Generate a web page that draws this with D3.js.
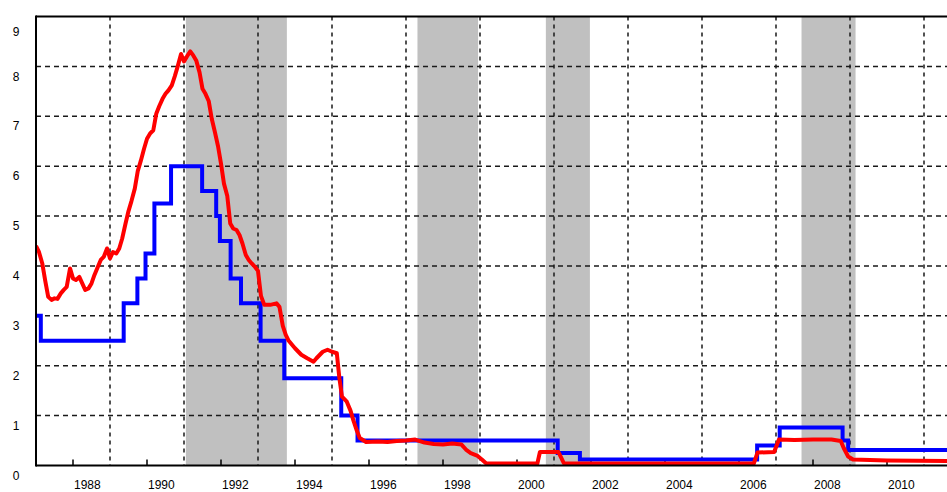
<!DOCTYPE html>
<html>
<head>
<meta charset="utf-8">
<script src="https://cdn.jsdelivr.net/npm/d3@7"></script>
<style>
  body { margin: 0; background: #fff; }
  text { font-family: "Liberation Sans", Arial, sans-serif; font-size: 12px; fill: #000; }
</style>
</head>
<body>
<div id="chart"></div>
<script>
var width = 947,
    height = 492;

// left/top of the plot frame, bottom axis line
var plotLeft = 36, plotTop = 16.5, plotBottom = 465.5;

// recession bands (decimal years)
var recessionStart = [1991.05, 1997.31, 2000.78, 2007.69];
var recessionEnd   = [1993.78, 1998.95, 2001.97, 2009.15];

// official discount rate: date of change and new level
var blueDates  = [1987.00, 1987.13, 1989.37, 1989.74, 1989.96, 1990.20, 1990.65, 1991.49, 1991.87, 1991.97,
                  1992.26, 1992.54, 1993.07, 1993.71, 1995.25, 1995.69, 2001.10, 2001.17, 2001.70, 2006.49,
                  2007.10, 2008.80, 2008.95, 2011.80];
var blueValues = [3.00, 2.50, 3.25, 3.75, 4.25, 5.25, 6.00, 5.50, 5.00, 4.50,
                  3.75, 3.25, 2.50, 1.75, 1.00, 0.50, 0.25, 0.25, 0.12, 0.40,
                  0.76, 0.50, 0.31, 0.31];

// call rate
var redDates = [1987.00, 1987.08, 1987.17, 1987.25, 1987.33, 1987.42, 1987.50, 1987.58, 1987.67, 1987.75,
                1987.83, 1987.92, 1988.00, 1988.08, 1988.17, 1988.25, 1988.33, 1988.42, 1988.50, 1988.58,
                1988.67, 1988.75, 1988.83, 1988.92, 1989.00, 1989.08, 1989.17, 1989.25, 1989.33, 1989.42,
                1989.50, 1989.58, 1989.67, 1989.75, 1989.83, 1989.92, 1990.00, 1990.08, 1990.17, 1990.25,
                1990.33, 1990.42, 1990.50, 1990.58, 1990.67, 1990.75, 1990.83, 1990.92, 1991.00, 1991.08,
                1991.17, 1991.25, 1991.33, 1991.42, 1991.50, 1991.58, 1991.67, 1991.75, 1991.83, 1991.92,
                1992.00, 1992.08, 1992.17, 1992.25, 1992.33, 1992.42, 1992.50, 1992.58, 1992.67, 1992.75,
                1992.83, 1992.92, 1993.00, 1993.08, 1993.17, 1993.33, 1993.50, 1993.58, 1993.67, 1993.75,
                1993.83, 1993.92, 1994.00, 1994.17, 1994.33, 1994.50, 1994.58, 1994.75, 1994.88, 1995.00,
                1995.13, 1995.20, 1995.27, 1995.40, 1995.50, 1995.58, 1995.67, 1995.75, 1995.92, 1996.25,
                1996.50, 1996.75, 1997.00, 1997.25, 1997.50, 1997.75, 1998.00, 1998.25, 1998.50, 1998.62,
                1998.75, 1998.92, 1999.05, 1999.17, 2000.55, 2000.62, 2001.12, 2001.20, 2001.27, 2006.40,
                2006.50, 2006.95, 2007.08, 2007.50, 2008.00, 2008.50, 2008.75, 2008.83, 2008.95, 2009.08,
                2010.00, 2011.80];
var redValues = [4.40, 4.28, 4.05, 3.70, 3.38, 3.32, 3.35, 3.34, 3.45, 3.52,
                 3.58, 3.95, 3.75, 3.72, 3.78, 3.65, 3.52, 3.55, 3.65, 3.82,
                 3.98, 4.12, 4.18, 4.35, 4.15, 4.28, 4.25, 4.35, 4.55, 4.85,
                 5.10, 5.30, 5.55, 5.90, 6.10, 6.35, 6.55, 6.65, 6.72, 7.05,
                 7.20, 7.35, 7.45, 7.52, 7.62, 7.80, 8.00, 8.25, 8.10, 8.20,
                 8.30, 8.22, 8.12, 7.88, 7.55, 7.45, 7.30, 6.95, 6.70, 6.40,
                 6.05, 5.65, 5.40, 4.85, 4.75, 4.72, 4.62, 4.45, 4.22, 4.12,
                 4.05, 3.98, 3.90, 3.40, 3.22, 3.22, 3.25, 3.18, 2.80, 2.62,
                 2.50, 2.42, 2.35, 2.22, 2.15, 2.08, 2.15, 2.28, 2.32, 2.28,
                 2.25, 1.75, 1.38, 1.28, 1.10, 0.90, 0.70, 0.55, 0.47, 0.48,
                 0.47, 0.49, 0.50, 0.52, 0.46, 0.43, 0.42, 0.44, 0.42, 0.32,
                 0.25, 0.20, 0.12, 0.04, 0.04, 0.27, 0.27, 0.15, 0.04, 0.04,
                 0.26, 0.27, 0.52, 0.51, 0.52, 0.52, 0.49, 0.35, 0.18, 0.12,
                 0.10, 0.09];

var yTicks = [0, 1, 2, 3, 4, 5, 6, 7, 8, 9];
var xTickYears = [1988, 1990, 1992, 1994, 1996, 1998, 2000, 2002, 2004, 2006, 2008, 2010];
var xGridYears = [1989, 1991, 1993, 1995, 1997, 1999, 2001, 2003, 2005, 2007, 2009, 2011];

var x = d3.scaleLinear().domain([1987, 2012]).range([plotLeft, plotLeft + 25 * 37]);
var y = d3.scaleLinear().domain([0, 9]).range([plotBottom, plotTop]);

var svg = d3.select("#chart").append("svg")
    .attr("width", width)
    .attr("height", height);

svg.append("defs").append("clipPath").attr("id", "plotClip")
  .append("rect")
    .attr("x", plotLeft).attr("y", plotTop)
    .attr("width", width - plotLeft).attr("height", plotBottom - plotTop);

/* recession shading */
svg.selectAll(".recession")
  .data(d3.range(recessionStart.length))
  .enter().append("rect")
    .attr("class", "recession")
    .attr("x", function(i){ return x(recessionStart[i]); })
    .attr("width", function(i){ return x(recessionEnd[i]) - x(recessionStart[i]); })
    .attr("y", plotTop)
    .attr("height", plotBottom - plotTop)
    .attr("fill", "#c0c0c0");

/* grid */
svg.selectAll(".hgrid")
  .data(yTicks.filter(function(d){ return d > 0 && d < 9; }))
  .enter().append("line")
    .attr("class", "hgrid")
    .attr("x1", plotLeft).attr("x2", width)
    .attr("y1", function(d){ return y(d); })
    .attr("y2", function(d){ return y(d); })
    .attr("stroke", "#1a1a1a")
    .attr("stroke-width", 1.5)
    .attr("stroke-dasharray", "5,4");

svg.selectAll(".vgrid")
  .data(xGridYears)
  .enter().append("line")
    .attr("class", "vgrid")
    .attr("x1", function(d){ return x(d); })
    .attr("x2", function(d){ return x(d); })
    .attr("y1", plotTop).attr("y2", plotBottom)
    .attr("stroke", "#1a1a1a")
    .attr("stroke-width", 1.5)
    .attr("stroke-dasharray", "4,4");

// small ticks on the bottom axis
svg.selectAll(".xtick")
  .data(xTickYears)
  .enter().append("line")
    .attr("class", "xtick")
    .attr("x1", function(d){ return x(d); })
    .attr("x2", function(d){ return x(d); })
    .attr("y1", plotBottom).attr("y2", plotBottom - 6)
    .attr("stroke", "#000")
    .attr("stroke-width", 1.5);

/* series */
var plot = svg.append("g").attr("clip-path", "url(#plotClip)");

var blueLine = d3.line()
    .x(function(i){ return x(blueDates[i]); })
    .y(function(i){ return y(blueValues[i]); })
    .curve(d3.curveStepAfter);

var redLine = d3.line()
    .x(function(i){ return x(redDates[i]); })
    .y(function(i){ return y(redValues[i]); });

plot.append("path")
    .attr("d", blueLine(d3.range(blueDates.length)))
    .attr("fill", "none")
    .attr("stroke", "#0000ff")
    .attr("stroke-width", 4);

plot.append("path")
    .attr("d", redLine(d3.range(redDates.length)))
    .attr("fill", "none")
    .attr("stroke", "#ff0000")
    .attr("stroke-width", 4)
    .attr("stroke-linejoin", "round");

/* frame */
svg.append("line")
    .attr("x1", plotLeft).attr("x2", width)
    .attr("y1", plotTop).attr("y2", plotTop)
    .attr("stroke", "#000").attr("stroke-width", 2);
svg.append("line")
    .attr("x1", plotLeft).attr("x2", plotLeft)
    .attr("y1", plotTop - 1).attr("y2", plotBottom + 1)
    .attr("stroke", "#000").attr("stroke-width", 2);
svg.append("line")
    .attr("x1", plotLeft).attr("x2", width)
    .attr("y1", plotBottom).attr("y2", plotBottom)
    .attr("stroke", "#000").attr("stroke-width", 2);

/* labels: text sits just below/right of its tick */
svg.selectAll(".ylabel")
  .data(yTicks)
  .enter().append("text")
    .attr("class", "ylabel")
    .attr("x", 16)
    .attr("y", function(d){ return Math.max(y(d) + 10, 32); })
    .attr("dy", "0.35em")
    .attr("text-anchor", "middle")
    .text(function(d){ return d; });

svg.selectAll(".xlabel")
  .data(xTickYears)
  .enter().append("text")
    .attr("class", "xlabel")
    .attr("x", function(d){ return x(d) + 1; })
    .attr("y", 489)
    .text(function(d){ return d; });
</script>
</body>
</html>
